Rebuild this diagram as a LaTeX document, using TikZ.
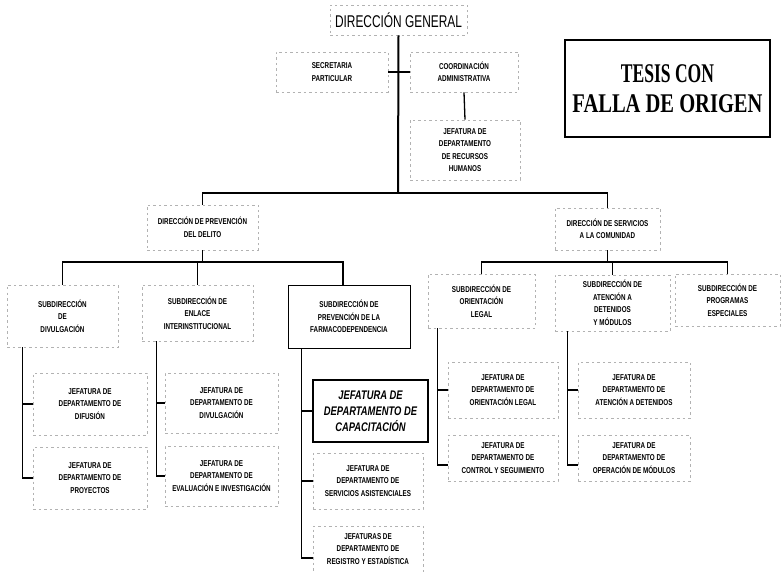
\documentclass[tikz,border=0pt]{standalone}
\usepackage{fontspec}
\newfontfamily\cond[FakeStretch=0.74]{Liberation Sans}
\newfontfamily\condDG[FakeStretch=0.7]{Liberation Sans}
\newfontfamily\condCap[FakeStretch=0.75]{Liberation Sans}
\newfontfamily\stampA[FakeStretch=0.65]{Liberation Serif}
\newfontfamily\stampB[FakeStretch=0.76]{Liberation Serif}
\begin{document}
\begin{tikzpicture}[x=1pt,y=-1pt,
  box/.style={draw=gray!60, dash pattern=on 2.5pt off 3pt, line width=0.6pt,
    align=center, inner sep=0pt, font=\cond\bfseries\fontsize{8.5}{12.5}\selectfont},
  solidbox/.style={box, draw=black, solid, line width=0.9pt},
  capbox/.style={box, draw=black, solid, line width=2pt,
    font=\condCap\bfseries\itshape\fontsize{12.5}{16}\selectfont},
  conn/.style={draw=black, line width=1.3pt},
  trunk/.style={draw=black, line width=2pt}]
\useasboundingbox (0,0) rectangle (782,572);
% top
\node[box, minimum width=137, minimum height=30, font=\condDG\fontsize{17}{20}\selectfont] (dg) at (398.5,20) {DIRECCIÓN GENERAL};
\node[box, minimum width=112, minimum height=40] (sec) at (332,72) {SECRETARIA\\PARTICULAR};
\node[box, minimum width=108, minimum height=40] (coord) at (464,72) {COORDINACIÓN\\ADMINISTRATIVA};
\node[box, minimum width=110, minimum height=60] (rh) at (465,150) {JEFATURA DE\\DEPARTAMENTO\\DE RECURSOS\\HUMANOS};
% directions
\node[box, minimum width=111, minimum height=45] (prev) at (202.5,227.5) {DIRECCIÓN DE PREVENCIÓN\\DEL DELITO};
\node[box, minimum width=105, minimum height=42] (serv) at (607.5,229) {DIRECCIÓN DE SERVICIOS\\A LA COMUNIDAD};
% subdirections left
\node[box, minimum width=111, minimum height=62] (div) at (62.5,316) {SUBDIRECCIÓN\\DE\\DIVULGACIÓN};
\node[box, minimum width=111, minimum height=56] (enl) at (197.5,313) {SUBDIRECCIÓN DE\\ENLACE\\INTERINSTITUCIONAL};
\node[solidbox, minimum width=122, minimum height=63] (farm) at (349,316.5) {SUBDIRECCIÓN DE\\PREVENCIÓN DE LA\\FARMACODEPENDENCIA};
% subdirections right
\node[box, minimum width=107, minimum height=54] (orl) at (481.5,301) {SUBDIRECCIÓN DE\\ORIENTACIÓN\\LEGAL};
\node[box, minimum width=115, minimum height=56] (ate) at (612.5,303) {SUBDIRECCIÓN DE\\ATENCIÓN A\\DETENIDOS\\Y MÓDULOS};
\node[box, minimum width=105, minimum height=52] (prog) at (727.5,300) {SUBDIRECCIÓN DE\\PROGRAMAS\\ESPECIALES};
% departments
\node[box, minimum width=114, minimum height=62] (dif) at (90,404) {JEFATURA DE\\DEPARTAMENTO DE\\DIFUSIÓN};
\node[box, minimum width=114, minimum height=62] (proy) at (90,478) {JEFATURA DE\\DEPARTAMENTO DE\\PROYECTOS};
\node[box, minimum width=113, minimum height=60] (jdiv) at (221.5,403) {JEFATURA DE\\DEPARTAMENTO DE\\DIVULGACIÓN};
\node[box, minimum width=113, minimum height=60] (eval) at (221.5,476) {JEFATURA DE\\DEPARTAMENTO DE\\EVALUACIÓN E INVESTIGACIÓN};
\node[capbox, minimum width=115, minimum height=62] (cap) at (370.5,411) {JEFATURA DE\\DEPARTAMENTO DE\\CAPACITACIÓN};
\node[box, minimum width=110, minimum height=56] (sasis) at (368,481) {JEFATURA DE\\DEPARTAMENTO DE\\SERVICIOS ASISTENCIALES};
\node[box, minimum width=110, minimum height=46] (reg) at (368,549) {JEFATURAS DE\\DEPARTAMENTO DE\\REGISTRO Y ESTADÍSTICA};
\node[box, minimum width=110, minimum height=56] (jorl) at (503,390) {JEFATURA DE\\DEPARTAMENTO DE\\ORIENTACIÓN LEGAL};
\node[box, minimum width=110, minimum height=46] (ctrl) at (503,458) {JEFATURA DE\\DEPARTAMENTO DE\\CONTROL Y SEGUIMIENTO};
\node[box, minimum width=112, minimum height=56] (jate) at (634,390) {JEFATURA DE\\DEPARTAMENTO DE\\ATENCIÓN A DETENIDOS};
\node[box, minimum width=112, minimum height=46] (oper) at (634,458) {JEFATURA DE\\DEPARTAMENTO DE\\OPERACIÓN DE MÓDULOS};
% stamp
\node[draw=black, line width=2.2pt, minimum width=205, minimum height=97, align=center, inner sep=0pt] (stamp) at (667.5,88.5)
  {\stampA\bfseries\fontsize{27}{31}\selectfont TESIS CON\\[11pt]\stampB\bfseries\fontsize{27}{31}\selectfont FALLA DE ORIGEN};
% connectors
\coordinate (hub) at (398,193);
\coordinate (bl) at (0,262);
\draw[trunk] (dg.south) -- (hub);
\draw[conn] (sec.east) -- (coord.west);
\draw[conn] (coord.south) -- (rh.north);
\draw[conn] (prev.north) |- (hub) -| (serv.north);
\draw[conn] (prev.south) -- (prev.south |- bl);
\draw[conn] (div.north) |- ([xshift=-6pt]farm.north |- bl) -- ([xshift=-6pt]farm.north);
\draw[conn] (enl.north) -- (enl.north |- bl);
\draw[conn] (serv.south) -- (serv.south |- bl);
\draw[conn] (orl.north) |- (prog.north |- bl) -- (prog.north);
\draw[conn] (ate.north) -- (ate.north |- bl);
% department branches
\draw[conn] ([xshift=16pt]div.south west) |- (dif.west);
\draw[conn] ([xshift=16pt]div.south west) |- (proy.west);
\draw[conn] ([xshift=15pt]enl.south west) |- (jdiv.west);
\draw[conn] ([xshift=15pt]enl.south west) |- (eval.west);
\draw[conn] ([xshift=14pt]farm.south west) |- (cap.west);
\draw[conn] ([xshift=14pt]farm.south west) |- (sasis.west);
\draw[conn] ([xshift=14pt]farm.south west) |- ([yshift=-9pt]reg.west);
\draw[conn] ([xshift=10pt]orl.south west) |- (jorl.west);
\draw[conn] ([xshift=10pt]orl.south west) |- ([yshift=-7pt]ctrl.west);
\draw[conn] ([xshift=13pt]ate.south west) |- (jate.west);
\draw[conn] ([xshift=13pt]ate.south west) |- ([yshift=-7pt]oper.west);
\end{tikzpicture}
\end{document}
